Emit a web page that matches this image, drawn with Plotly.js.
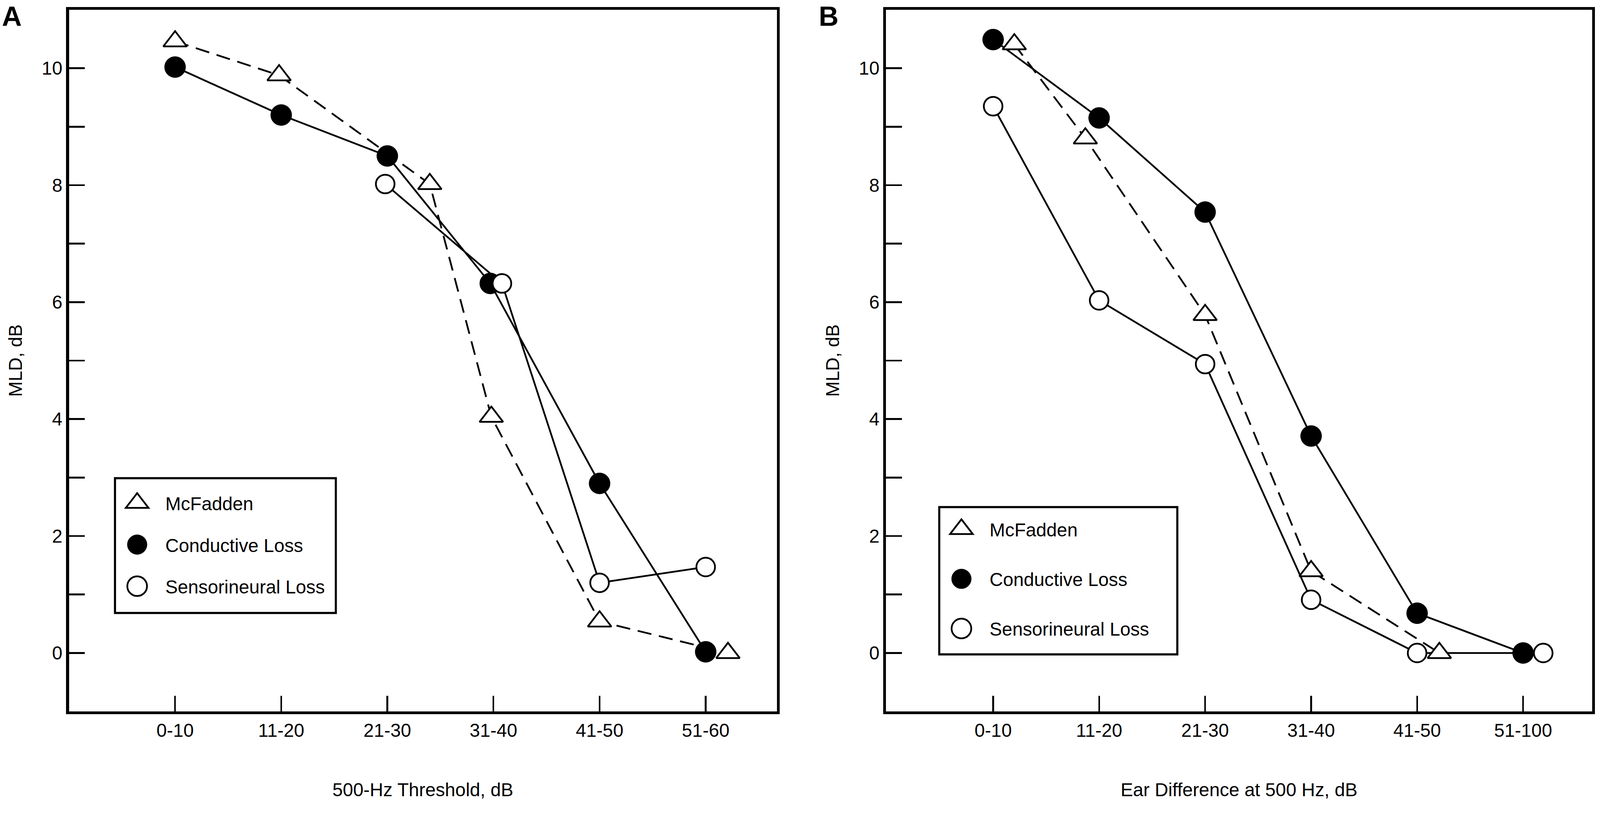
<!DOCTYPE html>
<html>
<head>
<meta charset="utf-8">
<script src="https://cdn.plot.ly/plotly-3.0.1.min.js"></script>
<style>html,body{margin:0;padding:0;background:#fff;overflow:hidden;}</style>
</head>
<body>
<div id="chart"></div>
<script>
// ---------- data ----------
const categoriesA = ['0-10', '11-20', '21-30', '31-40', '41-50', '51-60'];
const categoriesB = ['0-10', '11-20', '21-30', '31-40', '41-50', '51-100'];
const categoryIndex = [0, 1, 2, 3, 4, 5];
const yTickValues = [0, 1, 2, 3, 4, 5, 6, 7, 8, 9, 10];
const yTickLabels = ['0', '', '2', '', '4', '', '6', '', '8', '', '10'];

const seriesNames = ['McFadden', 'Conductive Loss', 'Sensorineural Loss'];

// Panel A (x = category index, small offsets as plotted in the original)
const mcfaddenA_x = [0, 0.98, 2.4, 2.98, 4.0, 5.21];
const mcfaddenA_y = [10.46, 9.88, 8.02, 4.04, 0.54, 0.0];
const conductiveA_x = [0, 1, 2, 2.97, 4, 5];
const conductiveA_y = [10.02, 9.2, 8.5, 6.32, 2.9, 0.02];
const sensorineuralA_x = [1.98, 3.08, 4, 5];
const sensorineuralA_y = [8.02, 6.32, 1.2, 1.47];

// Panel B
const mcfaddenB_x = [0.2, 0.87, 2.0, 3.0, 4.21];
const mcfaddenB_y = [10.41, 8.8, 5.78, 1.4, 0.0];
const conductiveB_x = [0, 1, 2, 3, 4, 5];
const conductiveB_y = [10.49, 9.15, 7.54, 3.71, 0.68, 0.0];
const sensorineuralB_x = [0, 1, 2, 3, 4, 5.19];
const sensorineuralB_y = [9.35, 6.03, 4.94, 0.91, 0.0, 0.0];

// ---------- sizing (fit to the actual viewport) ----------
const VW = document.documentElement.clientWidth || window.innerWidth || 4550;
const VH = document.documentElement.clientHeight || window.innerHeight || 2081;
const S = Math.min(VW / 4550, VH / 2081);
const px = v => v * S;

const chartDiv = document.getElementById('chart');
chartDiv.style.width = VW + 'px';
chartDiv.style.height = VH + 'px';

// ---------- styles ----------
const FONT = 'Liberation Sans, Arial, Helvetica, sans-serif';
const INK = '#000';
const lineW = px(5);
const TXT = 53;

function mcfaddenTrace(x, y, xa, ya) {
  return {
    type: 'scatter', mode: 'lines+markers', x: x, y: y, xaxis: xa, yaxis: ya,
    name: seriesNames[0], showlegend: false, cliponaxis: false,
    line: {color: INK, width: lineW, dash: px(40) + 'px,' + px(22) + 'px'},
    marker: {symbol: 'triangle-up', size: px(58), color: '#fff', line: {color: INK, width: px(5)}}
  };
}
function conductiveTrace(x, y, xa, ya) {
  return {
    type: 'scatter', mode: 'lines+markers', x: x, y: y, xaxis: xa, yaxis: ya,
    name: seriesNames[1], showlegend: false, cliponaxis: false,
    line: {color: INK, width: lineW},
    marker: {symbol: 'circle', size: px(60), color: INK, line: {color: INK, width: px(1)}}
  };
}
function sensorineuralTrace(x, y, xa, ya) {
  return {
    type: 'scatter', mode: 'lines+markers', x: x, y: y, xaxis: xa, yaxis: ya,
    name: seriesNames[2], showlegend: false, cliponaxis: false,
    line: {color: INK, width: lineW},
    marker: {symbol: 'circle', size: px(53), color: '#fff', line: {color: INK, width: px(5)}}
  };
}
const LEG_SCALE = px(56) / 16;
function legendTraces(xa, ya, legendId) {
  const lw = px(5) / LEG_SCALE;
  const mk = [
    {symbol: 'triangle-up', size: 16, color: '#fff', line: {color: INK, width: lw}},
    {symbol: 'circle', size: 16, color: INK, line: {color: INK, width: 0.3}},
    {symbol: 'circle', size: 16, color: '#fff', line: {color: INK, width: lw}}
  ];
  return seriesNames.map((n, i) => ({
    type: 'scatter', mode: 'markers', x: [null], y: [null], xaxis: xa, yaxis: ya,
    name: n, legend: legendId, legendgroup: legendId + '_' + i, showlegend: true,
    marker: mk[i]
  }));
}

const data = [
  conductiveTrace(conductiveA_x, conductiveA_y, 'x', 'y'),
  sensorineuralTrace(sensorineuralA_x, sensorineuralA_y, 'x', 'y'),
  mcfaddenTrace(mcfaddenA_x, mcfaddenA_y, 'x', 'y'),
  conductiveTrace(conductiveB_x, conductiveB_y, 'x2', 'y2'),
  sensorineuralTrace(sensorineuralB_x, sensorineuralB_y, 'x2', 'y2'),
  mcfaddenTrace(mcfaddenB_x, mcfaddenB_y, 'x2', 'y2')
].concat(legendTraces('x', 'y', 'legend'), legendTraces('x2', 'y2', 'legend2'));

function xAxis(domain, range, labels, title, anchor) {
  return {
    domain: domain, range: range, anchor: anchor,
    tickmode: 'array', tickvals: categoryIndex, ticktext: labels,
    ticks: 'inside', ticklen: px(45), tickwidth: px(5), tickcolor: INK,
    showline: true, linewidth: px(8), linecolor: INK, mirror: true,
    showgrid: false, zeroline: false, ticklabelstandoff: px(10),
    tickfont: {family: FONT, size: px(TXT), color: INK},
    title: {text: title, font: {family: FONT, size: px(TXT), color: INK}, standoff: px(125)}
  };
}
function yAxis(domain, anchor) {
  return {
    domain: domain, range: [-1, 11], anchor: anchor,
    tickmode: 'array', tickvals: yTickValues, ticktext: yTickLabels,
    ticks: 'inside', ticklen: px(45), tickwidth: px(5), tickcolor: INK,
    showline: true, linewidth: px(8), linecolor: INK, mirror: true,
    showgrid: false, zeroline: false, ticklabelstandoff: px(20),
    tickfont: {family: FONT, size: px(TXT), color: INK},
    title: {text: 'MLD, dB', font: {family: FONT, size: px(TXT), color: INK}, standoff: px(42)}
  };
}

const yDomain = [0.1249, 0.988];
const legendCommon = {
  xanchor: 'left', yanchor: 'top', bgcolor: 'rgba(0,0,0,0)', borderwidth: 0,
  font: {family: FONT, size: px(53), color: INK}, itemwidth: Math.max(30, px(125)),
  traceorder: 'grouped', orientation: 'v'
};

// legend frames (paper fractions)
const W0 = 4550, H0 = 2081;
function frame(l, t, r, b) {
  return {type: 'rect', xref: 'paper', yref: 'paper', layer: 'above',
    x0: l / W0, x1: r / W0, y0: 1 - b / H0, y1: 1 - t / H0,
    fillcolor: '#fff', line: {color: INK, width: px(6)}};
}

const layout = {
  width: VW, height: VH, autosize: false,
  margin: {l: 0, r: 0, t: 0, b: 0},
  paper_bgcolor: '#fff', plot_bgcolor: '#fff',
  font: {family: FONT, color: INK},
  showlegend: true,
  xaxis: xAxis([0.0431, 0.4855], [-1.0, 5.67], categoriesA, '500-Hz Threshold, dB', 'y'),
  yaxis: yAxis(yDomain, 'x'),
  xaxis2: xAxis([0.5538, 0.9950], [-1.01, 5.65], categoriesB, 'Ear Difference at 500 Hz, dB', 'y2'),
  yaxis2: yAxis(yDomain, 'x2'),
  legend: Object.assign({}, legendCommon, {x: 334 / W0, y: 1 - 1250 / H0, tracegroupgap: px(46)}),
  legend2: Object.assign({}, legendCommon, {x: 2678 / W0, y: 1 - 1317 / H0, tracegroupgap: px(69)}),
  shapes: [frame(327, 1224, 955, 1569), frame(2671, 1298, 3348, 1675)],
  annotations: [
    {text: '<b>A</b>', xref: 'paper', yref: 'paper', x: 0.0008, y: 1.0, xanchor: 'left', yanchor: 'top',
     showarrow: false, font: {family: FONT, size: px(78), color: INK}},
    {text: '<b>B</b>', xref: 'paper', yref: 'paper', x: 0.5112, y: 1.0, xanchor: 'left', yanchor: 'top',
     showarrow: false, font: {family: FONT, size: px(78), color: INK}}
  ]
};

Plotly.newPlot(chartDiv, data, layout, {displayModeBar: false, responsive: false, staticPlot: true}).then(function (gd) {
  // enlarge legend symbols (both legends) to match the size of the plotted markers
  gd.querySelectorAll('.legendpoints path.scatterpts').forEach(function (p) {
    const t = p.getAttribute('transform') || '';
    p.setAttribute('transform', t + ' translate(' + px(-12) + ',0) scale(' + LEG_SCALE + ')');
  });
});
</script>
</body>
</html>
